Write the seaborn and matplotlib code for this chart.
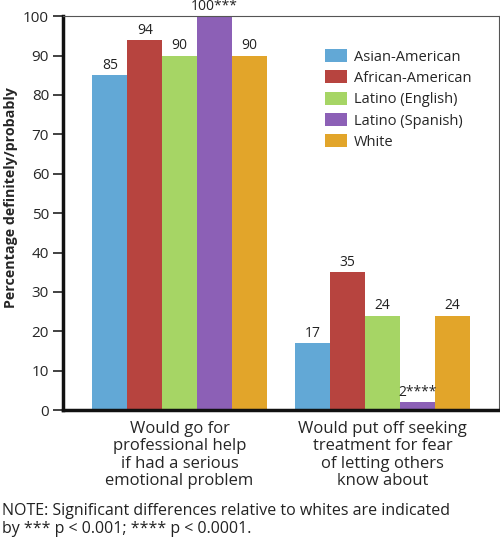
import numpy as np
import pandas as pd
import matplotlib
matplotlib.use("Agg")
import matplotlib.pyplot as plt
import seaborn as sns

# ── Données ──────────────────────────────────────────────────────────────────
questions = [
    "Would go for\nprofessional help\nif had a serious\nemotional problem",
    "Would put off seeking\ntreatment for fear\nof letting others\nknow about",
]
groups = ["Asian-American", "African-American", "Latino (English)",
          "Latino (Spanish)", "White"]
values_help = [85, 94, 90, 100, 90]
values_fear = [17, 35, 24, 2, 24]
labels_help = ["85", "94", "90", "100***", "90"]
labels_fear = ["17", "35", "24", "2****", "24"]
colors = ["#62a8d6", "#b7443f", "#a6d565", "#8c60b6", "#e2a52a"]

df = pd.DataFrame({
    "question": [questions[0]] * 5 + [questions[1]] * 5,
    "group": groups * 2,
    "value": values_help + values_fear,
})

sns.set_style("white")
plt.rcParams["font.family"] = ["Open Sans", "DejaVu Sans"]

fig = plt.figure(figsize=(5, 5.58), dpi=100)
ax = fig.add_axes([0.126, 0.265, 0.872, 0.706])

sns.barplot(data=df, x="question", y="value", hue="group",
            hue_order=groups, order=questions, palette=colors,
            width=0.86, gap=0, saturation=1, ax=ax, errorbar=None,
            linewidth=0)

for cont, lh, lf in zip(ax.containers, labels_help, labels_fear):
    ax.bar_label(cont, labels=[lh, lf], padding=1.5, fontsize=10, color="#222222")

ax.set_ylim(0, 100)
ax.set_xlim(-0.575, 1.575)
ax.set_yticks(np.arange(0, 101, 10))
ax.tick_params(axis="y", length=7, width=1.2, labelsize=11, color="#222222",
               left=True, pad=3)
ax.tick_params(axis="x", length=0, labelsize=12, pad=8)
for lbl in ax.get_xticklabels():
    lbl.set_linespacing(1.1)
ax.set_xlabel("")
ax.set_ylabel("Percentage definitely/probably", fontsize=10.3,
              fontweight="bold")
ax.yaxis.set_label_coords(-0.103, 0.54)

for side in ["left", "bottom"]:
    ax.spines[side].set_color("#111111")
    ax.spines[side].set_linewidth(2.5)
for side in ["top", "right"]:
    ax.spines[side].set_color("#555555")
    ax.spines[side].set_linewidth(0.8)

leg = ax.legend(loc="upper left", bbox_to_anchor=(0.57, 0.95), frameon=False,
                fontsize=10.5, handlelength=1.5, handleheight=1.0,
                handletextpad=0.5, labelspacing=0.4)

fig.text(0.004, 0.068,
         "NOTE: Significant differences relative to whites are indicated\n"
         "by *** p < 0.001; **** p < 0.0001.",
         fontsize=11.5, va="center", ha="left", linespacing=1.1,
         color="#222222")

fig.savefig("out.png", dpi=100)
